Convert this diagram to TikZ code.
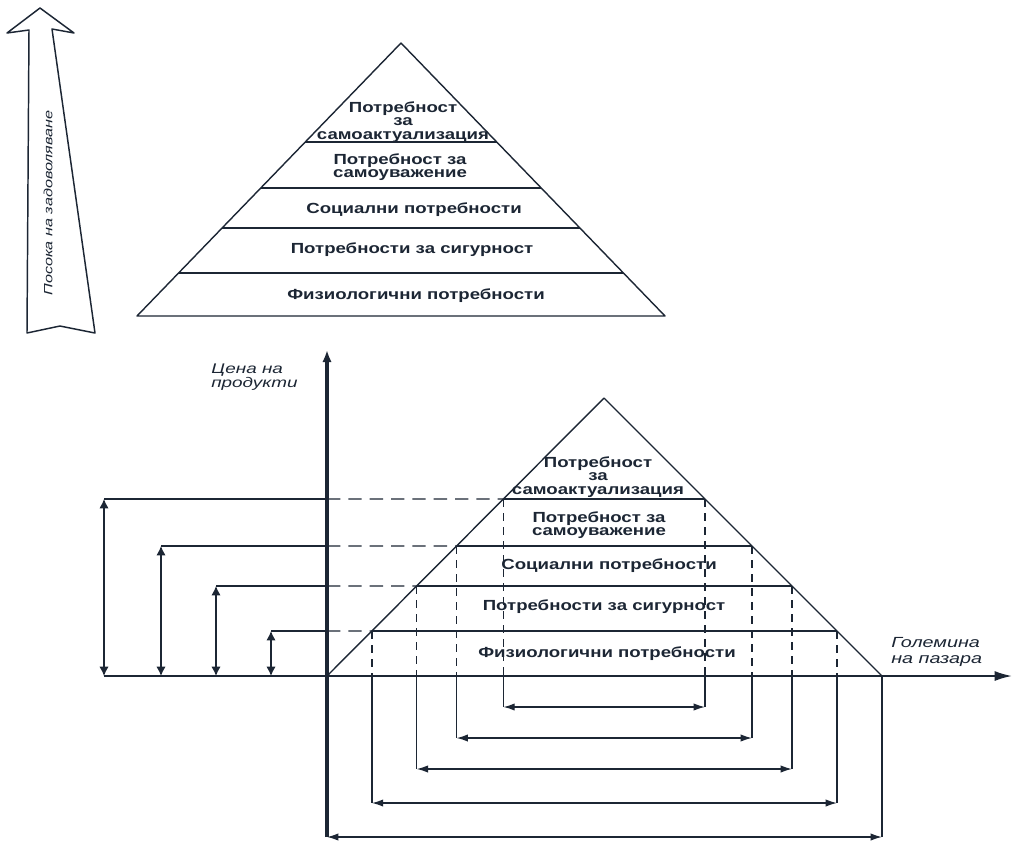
\documentclass[tikz,border=0pt]{standalone}
\usepackage{fontspec}
\setmainfont{Liberation Sans}
\newfontfamily\pyrfont{Liberation Sans}[FakeStretch=1.27]
\newfontfamily\lblfont{Liberation Sans}[FakeStretch=1.35]
\usetikzlibrary{calc,arrows.meta}
\definecolor{ink}{RGB}{28,38,52}
\begin{document}
\begin{tikzpicture}[x=0.75pt,y=-0.75pt,
  pyr/.style={draw=ink,line width=1.05pt,line join=round},
  lvltext/.style={text=ink,align=center,inner sep=0pt,
    font=\pyrfont\bfseries\fontsize{11}{10}\selectfont},
  axlabel/.style={text=ink,align=left,inner sep=0pt,anchor=west,
    font=\lblfont\itshape\fontsize{10.5}{11}\selectfont},
  hdash/.style={draw=ink,line width=1pt,dash pattern=on 10pt off 6pt},
  vdash/.style={draw=ink,line width=1pt,dash pattern=on 6pt off 4.5pt},
  conn/.style={draw=ink,line width=1.05pt},
  vsize/.style={draw=ink,line width=1.05pt,{Latex[length=7pt,width=7pt]}-{Latex[length=7pt,width=7pt]}},
  hsize/.style={draw=ink,line width=1.05pt,{Latex[length=8.5pt,width=5.5pt]}-{Latex[length=8.5pt,width=5.5pt]}},
  bigarrow/.style={draw=ink,line width=1.1pt,line join=round,fill=white}
]
\useasboundingbox[fill=white] (0,0) rectangle (1020,843);

% ---- direction arrow ----
\draw[bigarrow] (40,8) -- (74,33) -- (52,29) -- (95,333) -- (60,326) -- (27,333) -- (29,30) -- (7,33) -- cycle;
\node[rotate=90,text=ink,font=\lblfont\itshape\fontsize{9}{10}\selectfont] (dirlbl) at (48,203) {Посока на задоволяване};

% ---- upper pyramid ----
\coordinate (T) at (401,43);
\coordinate (TL) at (137,316);
\coordinate (TR) at (665,316);
\draw[pyr] (TL) -- (T) -- (TR) -- cycle;
\foreach \n/\y in {1/142,2/188,3/228,4/273}{
  \coordinate (tl\n) at ($(TL)!{(316-\y)/273}!(T)$);
  \coordinate (tr\n) at ($(TR)!{(316-\y)/273}!(T)$);
  \draw[pyr] (tl\n) -- (tr\n);
}
\node[lvltext] (u5) at (403,122) {Потребност\\за\\самоактуализация};
\node[lvltext] (u4) at (400,167) {Потребност за\\самоуважение};
\node[lvltext] (u3) at (414,210) {Социални потребности};
\node[lvltext] (u2) at (412,250) {Потребности за сигурност};
\node[lvltext] (u1) at (416,296) {Физиологични потребности};

% ---- axes ----
\coordinate (O) at (327,676);
\coordinate (xs) at (104,676);
\coordinate (xe) at (1012,676);
\coordinate (ys) at (327,837);
\coordinate (ye) at (327,350);
\draw[draw=ink,line width=1.4pt,-{Latex[length=13pt,width=7.5pt]}] (xs) -- (xe);
\draw[draw=ink,line width=2.5pt,-{Latex[length=9pt,width=7pt]}] (ys) -- (ye);
\node[axlabel] (ylbl) at (211,377) {Цена на\\продукти};
\node[axlabel,font=\lblfont\itshape\fontsize{11}{11.5}\selectfont] (xlbl) at (891,652) {Големина\\на пазара};

% ---- lower pyramid ----
\coordinate (B) at (604,398);
\coordinate (BL) at (327,676);
\coordinate (BR) at (882,676);
\draw[pyr] (BL) -- (B) -- (BR);
\foreach \n/\y/\lx/\by in {1/499/104/707,2/546/161/738,3/586/216/769,4/631/271/803}{
  \coordinate (bl\n) at ($(BL)!{(676-\y)/278}!(B)$);
  \coordinate (br\n) at ($(BR)!{(676-\y)/278}!(B)$);
  \coordinate (ax\n) at (327,\y);
  \coordinate (la\n) at (\lx,\y);
  \coordinate (lb\n) at (\lx,676);
  \coordinate (bld\n) at (bl\n |- BL);
  \coordinate (brd\n) at (br\n |- BR);
  \coordinate (blb\n) at ($(bl\n |- BL)+(0,\by-676)$);
  \coordinate (brb\n) at ($(br\n |- BR)+(0,\by-676)$);
  \draw[pyr] (bl\n) -- (br\n);
  \draw[conn] (la\n) -- (ax\n);
  \draw[hdash] (ax\n) -- (bl\n);
  \draw[vsize] (la\n) -- (lb\n);
  \draw[vdash] (bl\n) -- (bld\n);
  \draw[vdash] (br\n) -- (brd\n);
  \draw[conn] (bld\n) -- (blb\n);
  \draw[conn] (brd\n) -- (brb\n);
  \draw[hsize] (blb\n) -- (brb\n);
}
\coordinate (brb5) at (882,837);
\draw[conn] (BR) -- (brb5);
\draw[hsize] (ys) -- (brb5);

\node[lvltext] (l5) at (598,477) {Потребност\\за\\самоактуализация};
\node[lvltext] (l4) at (599,525) {Потребност за\\самоуважение};
\node[lvltext] (l3) at (609,566) {Социални потребности};
\node[lvltext] (l2) at (604,607) {Потребности за сигурност};
\node[lvltext] (l1) at (607,654) {Физиологични потребности};
\end{tikzpicture}
\end{document}
